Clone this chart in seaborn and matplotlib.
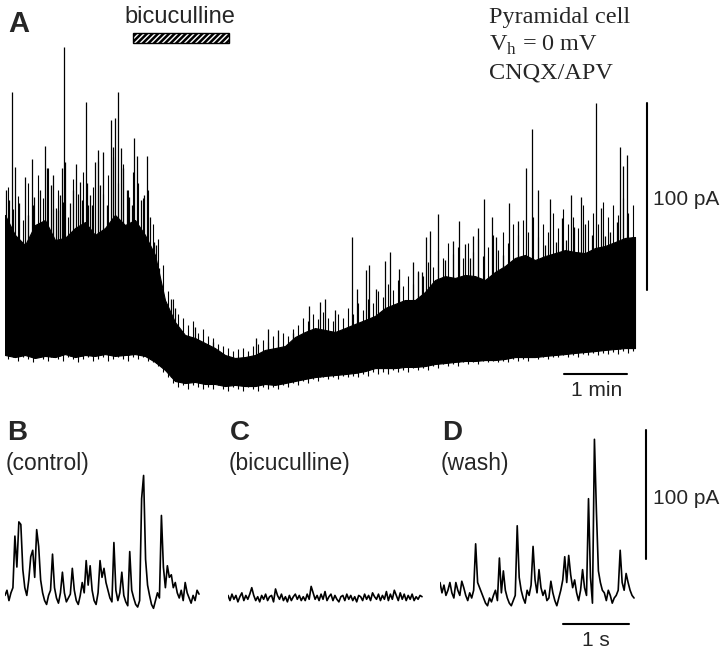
import numpy as np
import matplotlib
matplotlib.use("Agg")
import matplotlib.pyplot as plt
from matplotlib.patches import Rectangle
import seaborn as sns

# --- A: whole recording, time in min, current in pA ---
env_t = np.linspace(0, 10, 64)
env_low = [0.0, -1.1, 0.0, -1.6, -0.5, -1.1, 0.5, -1.1, 0.0, -0.5,
           0.5, -0.5, 0.0, 0.5, -0.5, -3.7, -8.0, -13.9, -15.0, -14.4,
           -15.5, -15.5, -16.6, -16.0, -16.6, -16.6, -15.5, -16.0, -15.0, -13.9,
           -12.8, -11.8, -11.2, -10.7, -10.2, -9.6, -8.6, -7.0, -7.0, -7.0,
           -6.4, -6.4, -5.9, -4.8, -4.3, -3.7, -3.2, -3.2, -2.7, -2.7,
           -2.1, -1.1, -1.1, -1.1, -0.5, 0.0, 0.5, 1.1, 1.6, 2.1,
           2.7, 3.2, 3.7, 3.7]
env_high = [74.9, 64.2, 58.8, 69.5, 72.2, 61.5, 62.6, 67.9, 71.1, 64.2,
            67.9, 74.9, 69.5, 72.2, 64.2, 53.5, 29.4, 17.6, 10.7, 9.1,
            6.4, 3.7, 0.0, -1.6, -1.1, 0.0, 2.7, 3.7, 4.8, 9.6,
            12.3, 14.4, 13.4, 12.3, 14.4, 16.6, 18.7, 20.9, 25.1, 27.3,
            29.4, 29.4, 33.7, 40.1, 42.2, 41.2, 42.8, 42.2, 40.1, 44.4,
            47.6, 51.9, 53.5, 50.8, 52.9, 54.5, 56.1, 55.1, 54.5, 57.2,
            58.3, 60.4, 62.6, 63.1]

# large events (min, pA peak)
spike_t = [0.016, 0.063, 0.111, 0.159, 0.222, 0.317, 0.365, 0.429, 0.460, 0.556,
           0.635, 0.667, 0.730, 0.762, 0.810, 0.841, 0.873, 0.905, 0.937, 0.952,
           1.032, 1.079, 1.127, 1.190, 1.222, 1.286, 1.302, 1.349, 1.381, 1.429,
           1.476, 1.508, 1.556, 1.619, 1.683, 1.714, 1.746, 1.794, 1.841, 1.873,
           1.937, 1.968, 2.016, 2.048, 2.095, 2.159, 2.206, 2.254, 2.302, 2.365,
           2.397, 2.444, 2.508, 2.635, 2.698, 2.730, 2.810, 3.016, 3.095, 3.302,
           3.984, 4.175, 4.333, 4.571, 4.825, 5.000, 5.079, 5.238, 5.508, 5.587,
           5.730, 5.778, 5.889, 6.032, 6.111, 6.254, 6.476, 6.556, 6.619, 6.683,
           6.746, 6.873, 6.984, 7.111, 7.206, 7.302, 7.381, 7.429, 7.508, 7.603,
           7.730, 7.794, 7.905, 8.000, 8.143, 8.270, 8.365, 8.460, 8.571, 8.651,
           8.746, 8.841, 8.905, 8.984, 9.032, 9.143, 9.206, 9.317, 9.381, 9.460,
           9.524, 9.603, 9.714, 9.762, 9.810, 9.873, 9.952]
spike_pa = [88.2, 82.9, 140.6, 100.5, 81.3, 95.2, 74.9, 104.8, 84.5, 88.2,
            111.8, 100.0, 90.9, 96.3, 78.6, 77.5, 85.6, 100.0, 164.7, 103.2,
            81.3, 88.2, 102.1, 92.5, 82.9, 135.3, 92.0, 85.6, 80.2, 103.2,
            109.6, 90.9, 108.6, 80.2, 125.7, 111.2, 126.7, 140.6, 110.7, 100.0,
            88.2, 84.5, 80.2, 116.0, 106.4, 82.9, 85.6, 106.4, 73.8, 60.4,
            58.8, 46.5, 27.8, 29.9, 25.1, 16.0, 11.8, 15.0, 7.0, 7.0,
            9.1, 13.9, 13.4, 11.8, 26.2, 28.3, 29.9, 24.1, 63.1, 35.3,
            45.5, 48.1, 35.3, 50.3, 55.1, 46.0, 49.7, 44.4, 44.4, 63.1,
            66.3, 75.4, 50.8, 61.0, 71.7, 59.4, 51.9, 63.6, 67.9, 83.4,
            73.8, 63.1, 53.5, 81.3, 71.7, 100.0, 120.9, 88.2, 58.8, 83.4,
            60.4, 73.3, 61.5, 85.6, 68.4, 84.5, 70.1, 64.2, 134.8, 78.6,
            63.6, 65.8, 71.1, 111.2, 101.1, 107.0, 63.1]

# small events and noise troughs, one per ~5 s bin (pA)
minor_t = np.arange(126) * 0.0794 + 0.04
minor_pa = [90, 78, 85, 72, 92, 80, 96, 84, 100, 78,
            88, 82, 74, 94, 86, 98, 80, 90, 104, 86,
            96, 106, 92, 102, 88, 98, 92, 84, 88, 70,
            62, 48, 34, 30, 22, 20, 16, 18, 12, 14,
            10, 9, 6, 5, 4, 2, 3, 4, 2, 5,
            6, 8, 7, 10, 8, 12, 10, 14, 16, 20,
            18, 22, 19, 23, 20, 18, 22, 20, 25, 22,
            28, 24, 30, 28, 34, 31, 38, 35, 40, 37,
            42, 38, 45, 42, 50, 47, 56, 52, 60, 54,
            58, 52, 60, 55, 62, 53, 58, 64, 56, 66,
            60, 70, 64, 72, 66, 74, 63, 70, 66, 76,
            68, 78, 70, 74, 68, 80, 72, 76, 70, 82,
            74, 80, 75, 84, 76, 80]
minor_low = [-2, -1, -3, -1, -2, -4, -1, -2, -3, -1,
             -2, -3, -1, -2, -4, -2, -1, -3, -2, -1,
             -3, -2, -1, -2, -3, -1, -2, -1, -3, -4,
             -6, -9, -12, -15, -17, -16, -18, -16, -17, -18,
             -17, -18, -16, -18, -19, -17, -18, -19, -17, -18,
             -19, -17, -18, -17, -18, -16, -17, -15, -16, -14,
             -15, -13, -14, -12, -13, -12, -13, -11, -12, -11,
             -12, -10, -11, -9, -10, -9, -10, -8, -9, -8,
             -9, -7, -8, -7, -8, -6, -7, -5, -6, -5,
             -6, -4, -5, -4, -5, -3, -4, -3, -4, -3,
             -4, -2, -3, -2, -3, -1, -2, -1, -2, -1,
             -1, 0, -1, 0, -1, 0.5, 0, 1, 0, 1,
             0.5, 1.5, 0.5, 2, 1, 2]

drug_on, drug_off = 2.03, 3.56   # bicuculline application (min)

# --- B-D: 3 s sweeps sampled every 30 ms, pA ---
dt = 0.03
control = [2, 6, -2, 4, 8, 48, 24, 59, 57, 22,
           8, 2, 14, 32, 37, 16, 53, 40, 14, 4,
           -2, -5, 2, 6, 34, 8, 0, -4, 4, 20,
           4, -3, 0, 3, 23, 6, -2, -5, 2, 12,
           4, 29, 10, 25, 6, -2, -5, 4, 29, 16,
           23, 12, 6, 0, -3, 43, 6, -2, 4, 20,
           2, -3, -6, 36, 6, 0, -5, -7, -2, 77,
           95, 30, 10, 2, -5, -8, -2, 4, 0, 64,
           24, 8, 25, 16, 18, 8, 12, 4, 0, 6,
           -2, 12, 4, 0, -4, 2, -2, 6, 3]
bicuc = [2, -2, 3, -1, 2, -3, 1, 4, -2, 2, -1, 3, 8, 2, -2, 1, -3, 2, -1, 3,
         -2, 1, 2, -3, 7, 2, -1, 3, -2, 1, -3, 2, -2, 1, 3, -1, 2, -2, 1, -2,
         3, -1, 9, 4, -1, 2, -2, 3, -1, 5, -2, 1, 3, -2, 2, -1, -3, 1, 2, -2,
         3, -1, 2, -2, 1, -3, 2, 1, -2, 3, -1, 2, -2, 4, 1, -1, 3, -2, 2, -1,
         5, -2, 3, -1, 6, 2, -2, 4, -1, 3, -2, 2, -1, 3, -2, 1, -1, 2, 1]
wash = [12, 4, 10, 2, 6, 12, 4, 0, 12, 6,
        2, 13, 8, 2, -2, 4, 0, 6, 42, 12,
        8, 4, 0, -4, -6, 0, -3, 2, 6, -2,
        31, 4, 21, 6, 0, -4, -6, -2, 2, 56,
        16, 6, 0, -4, 6, 2, 10, 40, 14, 4,
        22, 8, 2, 6, -2, 0, 13, 4, -2, -6,
        0, 6, 14, 32, 12, 33, 18, 8, 14, 4,
        -2, 6, 22, 8, 2, 77, 16, -4, 123, 67,
        21, 12, 6, 4, -2, 6, 2, -4, 0, 2,
        6, 37, 12, 6, 19, 12, 6, 2, 0]

sns.set_style("white")
plt.rcParams["font.family"] = ["Liberation Sans", "DejaVu Sans"]
plt.rcParams["mathtext.fontset"] = "custom"
plt.rcParams["mathtext.rm"] = "Liberation Serif"

W, H = 720, 651
fig = plt.figure(figsize=(7.2, 6.51), dpi=100)


def px_axes(x0, y0, x1, y1):
    ax = fig.add_axes([x0 / W, 1 - y1 / H, (x1 - x0) / W, (y1 - y0) / H])
    ax.set_axis_off()
    return ax


def px_text(x, y, s, **kw):
    fig.text(x / W, 1 - y / H, s, **kw)


# panel A  (63 px per min, 1.87 px per pA, baseline at y=355)
axA = px_axes(5, 0, 705, 400)
axA.set_xlim(0, 700 / 63)
axA.set_ylim((355 - 400) / 1.87, 355 / 1.87)
axA.fill_between(env_t, env_low, env_high, color="black", lw=0.8)
axA.vlines(minor_t, minor_low, minor_pa, color="black", lw=0.8)
axA.vlines(spike_t, np.interp(spike_t, env_t, env_low), spike_pa,
           color="black", lw=0.9)

axA.add_patch(Rectangle((drug_on, 166.8), drug_off - drug_on, 5.4,
                        facecolor="black", edgecolor="none"))
axA.add_patch(Rectangle((drug_on, 166.8), drug_off - drug_on, 5.4,
                        facecolor="none", edgecolor="white", hatch="//////", lw=0))
axA.add_patch(Rectangle((drug_on, 166.8), drug_off - drug_on, 5.4,
                        facecolor="none", edgecolor="black", lw=1))

axA.plot([10.19, 10.19], [34.8, 134.8], color="black", lw=1.5)
axA.plot([8.873, 9.873], [-10.2, -10.2], color="black", lw=1.5)

px_text(8, 32, "A", fontsize=21, fontweight="bold")
px_text(180, 23, "bicuculline", fontsize=17, ha="center")
serif = dict(fontsize=17.5, family="Liberation Serif")
px_text(489, 23, "Pyramidal cell", **serif)
px_text(489, 51, r"V$_{\mathrm{h}}$ = 0 mV", **serif)
px_text(489, 79, "CNQX/APV", **serif)
px_text(653, 199, "100 pA", fontsize=15, va="center")
px_text(597, 390, "1 min", fontsize=15, ha="center", va="center")

# panels B-D  (66 px per s, 1.29 px per pA, baseline at y=598)
sweeps = [(control, 5, 220, "B", "(control)"),
          (bicuc, 228, 440, "C", "(bicuculline)"),
          (wash, 440, 720, "D", "(wash)")]
for data, x0, x1, lab, sub in sweeps:
    ax = px_axes(x0, 405, x1, 651)
    ax.set_xlim(0, (x1 - x0) / 66)
    ax.set_ylim((598 - 651) / 1.29, (598 - 405) / 1.29)
    t = np.arange(len(data)) * dt
    sns.lineplot(x=t, y=data, ax=ax, color="black", lw=1.2)
    px_text(x0 + 2, 440, lab, fontsize=20, fontweight="bold")
    px_text(x0 + 1, 470, sub, fontsize=16.5)
    if lab == "D":
        ax.plot([3.121, 3.121], [30.2, 130.2], color="black", lw=1.5)
        ax.plot([1.864, 2.864], [-20.2, -20.2], color="black", lw=1.5)

px_text(653, 498, "100 pA", fontsize=15, va="center")
px_text(596, 641, "1 s", fontsize=15, ha="center", va="center")

fig.savefig("out.png", dpi=100)
